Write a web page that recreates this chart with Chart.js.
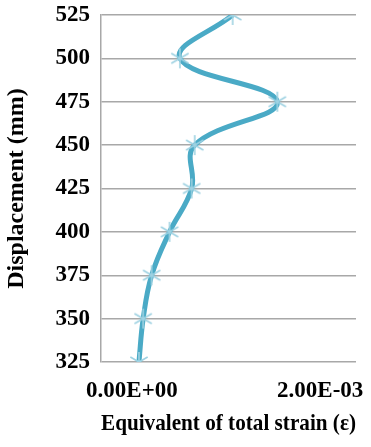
<!DOCTYPE html>
<html>
<head>
<meta charset="utf-8">
<script src="https://cdn.jsdelivr.net/npm/chart.js@4"></script>
<style>
  html, body { margin: 0; padding: 0; background: #fff; }
  #wrap { width: 371px; height: 447px; }
</style>
</head>
<body>
<div id="wrap"><canvas id="strain-chart"></canvas></div>
<script>
// displacement levels (mm) and equivalent total strain
const displacement = [325, 350, 375, 400, 425, 450, 475, 500, 525];
const strain = [0.075e-3, 0.12e-3, 0.21e-3, 0.40e-3, 0.635e-3, 0.667e-3, 1.545e-3, 0.51e-3, 1.07e-3];
const xTicks = [0, 0.002];
const yTicks = [325, 350, 375, 400, 425, 450, 475, 500, 525];

const SERIF = "'Liberation Serif', 'DejaVu Serif', serif";

// Excel style scientific label: 2.00E-03
function sci(v) {
  const [m, e] = v.toExponential(2).split('e');
  const n = parseInt(e, 10);
  const sign = n < 0 ? '-' : '+';
  return m + 'E' + sign + String(Math.abs(n)).padStart(2, '0');
}

// Excel "star" marker: an X with a vertical stroke through it
function starMarker(r, color) {
  const c = document.createElement('canvas');
  c.width = c.height = r * 2 + 2;
  const ctx = c.getContext('2d');
  const m = r + 1;
  ctx.strokeStyle = color;
  ctx.lineWidth = 1.6;
  ctx.beginPath();
  [90, 30, 150].forEach(deg => {
    const a = deg * Math.PI / 180;
    ctx.moveTo(m - r * Math.cos(a), m - r * Math.sin(a));
    ctx.lineTo(m + r * Math.cos(a), m + r * Math.sin(a));
  });
  ctx.stroke();
  return c;
}

new Chart(document.getElementById('strain-chart'), {
  type: 'scatter',
  data: {
    datasets: [{
      data: displacement.map((d, i) => ({ x: strain[i], y: d })),
      showLine: true,
      tension: 0.4,
      borderColor: '#4aaac6',
      borderWidth: 5,
      pointStyle: starMarker(10, '#9fd2e2'),
      pointRadius: 10,
    }],
  },
  options: {
    responsive: true,
    maintainAspectRatio: false,
    animation: false,
    events: [],
    layout: { padding: { left: 0, top: 15, right: 14, bottom: 0 } },
    plugins: { legend: { display: false }, tooltip: { enabled: false } },
    scales: {
      x: {
        type: 'linear',
        min: -0.000328,
        max: 0.00238,
        afterBuildTicks: axis => { axis.ticks = xTicks.map(v => ({ value: v })); },
        afterFit: axis => {
          axis.height = 85;
          axis.paddingLeft = 0;
          axis.paddingRight = 0;
        },
        ticks: {
          callback: v => sci(v),
          font: { family: SERIF, size: 23, weight: 'bold' },
          color: '#000',
          padding: 7,
          maxRotation: 0,
        },
        grid: { display: false },
        border: { display: false },
        title: {
          display: true,
          text: 'Equivalent of total strain (ε)',
          font: { family: SERIF, size: 23, weight: 'bold' },
          color: '#000',
          padding: { top: 0, bottom: 9 },
        },
      },
      y: {
        type: 'linear',
        min: 325,
        max: 525,
        afterBuildTicks: axis => { axis.ticks = yTicks.map(v => ({ value: v })); },
        afterFit: axis => {
          axis.width = 101;
          axis.paddingTop = 0;
          axis.paddingBottom = 0;
        },
        ticks: {
          font: { family: SERIF, size: 23, weight: 'bold' },
          color: '#000',
          padding: 11,
        },
        grid: { color: '#a8a8a8', lineWidth: 1.5, drawTicks: false },
        border: { display: true, color: '#a8a8a8', width: 1.5 },
        title: {
          display: true,
          text: 'Displacement (mm)',
          font: { family: SERIF, size: 24, weight: 'bold' },
          color: '#000',
          padding: { top: 2, bottom: 0 },
        },
      },
    },
  },
});
</script>
</body>
</html>
